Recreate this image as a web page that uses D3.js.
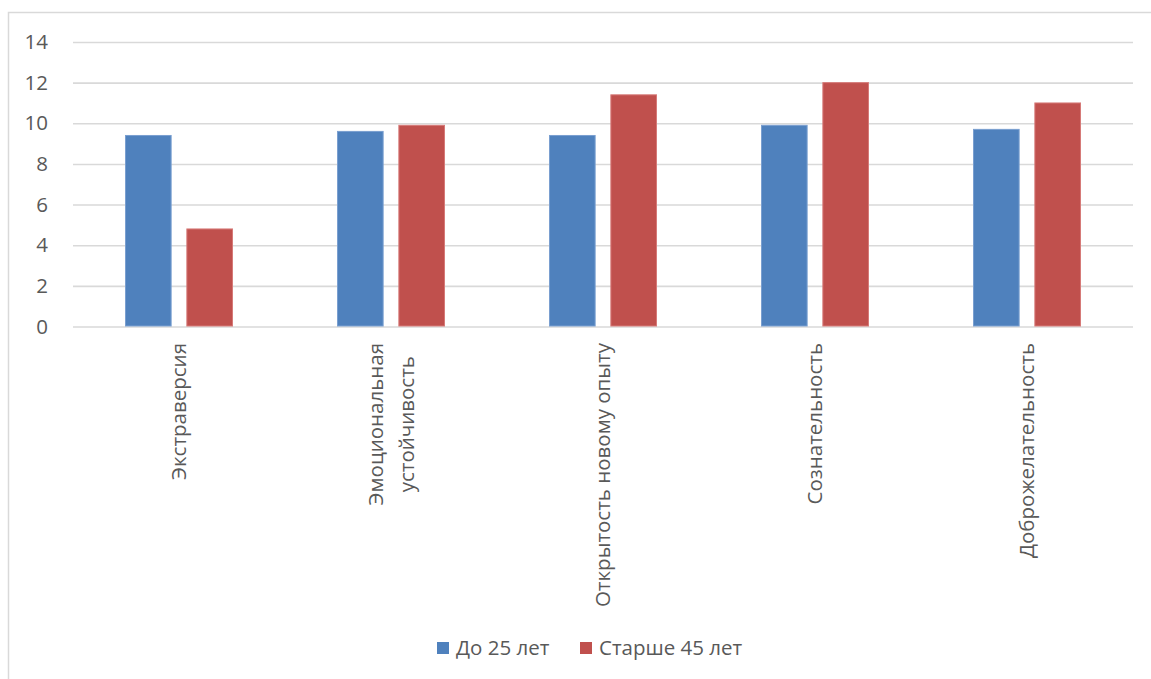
<!DOCTYPE html>
<html>
<head>
<meta charset="utf-8">
<script src="https://cdn.jsdelivr.net/npm/d3@7"></script>
<style>
  body { margin: 0; background: #fff; }
  text { font-family: "Open Sans", "Noto Sans", sans-serif; fill: #595959; }
</style>
</head>
<body>
<svg id="chart"></svg>
<script>
var categories = [["Экстраверсия"], ["Эмоциональная", "устойчивость"], ["Открытость новому опыту"], ["Сознательность"], ["Доброжелательность"]]
var seriesNames = ["До 25 лет", "Старше 45 лет"]
var young = [9.4, 9.6, 9.4, 9.9, 9.7]
var old = [4.8, 9.9, 11.4, 12.0, 11.0]
var yTicks = [0, 2, 4, 6, 8, 10, 12, 14]
var colors = ["#4f81bd", "#c0504d"]
var strokes = ["#7a9fd0", "#d67a78"]

var W = 1151, H = 679
var margin = {top: 42, left: 73, right: 18, bottom: 353}
var fs = "20.5px"

var svg = d3.select("#chart").attr("width", W).attr("height", H)

// chart frame
svg.append("rect")
  .attr("x", 8.5).attr("y", 12.5)
  .attr("width", W).attr("height", H)
  .attr("fill", "none").attr("stroke", "#d9d9d9").attr("stroke-width", 1.5)

var x = d3.scaleBand()
  .domain(d3.range(categories.length))
  .range([margin.left, W - margin.right])

var y = d3.scaleLinear()
  .domain([0, 14])
  .range([H - margin.bottom + 0.5, margin.top])

var x1 = d3.scaleBand()
  .domain([0, 1])
  .range([0, 108])
  .paddingInner(0.24)

// gridlines
svg.append("g")
  .attr("transform", "translate(" + margin.left + ",0)")
  .call(d3.axisLeft(y).tickValues(yTicks).tickSize(-(W - margin.right - margin.left)).tickFormat(""))
  .call(function (g) { g.select(".domain").remove() })
  .selectAll("line")
  .attr("stroke", "#d9d9d9").attr("stroke-width", 1.6)

// y labels
svg.append("g")
  .selectAll("text")
  .data(yTicks)
  .enter().append("text")
  .attr("x", 48)
  .attr("y", function (d) { return y(d) })
  .attr("dy", "0.35em")
  .attr("text-anchor", "end")
  .attr("font-size", fs)
  .text(function (d) { return d })

var data = [young, old]
var groups = svg.append("g")
  .selectAll("g")
  .data(categories)
  .enter().append("g")
  .attr("transform", function (d, i) { return "translate(" + (x(i) + x.bandwidth() / 2 - 54) + ",0)" })

groups.selectAll("rect")
  .data(function (d, i) { return data.map(function (s, k) { return {k: k, v: s[i]} }) })
  .enter().append("rect")
  .attr("x", function (d) { return x1(d.k) + 0.5 })
  .attr("width", x1.bandwidth() - 1)
  .attr("y", function (d) { return y(d.v) })
  .attr("height", function (d) { return y(0) - y(d.v) - 0.5 })
  .attr("fill", function (d) { return colors[d.k] })
  .attr("stroke", function (d) { return strokes[d.k] })
  .attr("stroke-width", 1)

// category labels, rotated
var lineH = 31
categories.forEach(function (lines, i) {
  var cx = x(i) + x.bandwidth() / 2
  var t = svg.append("text")
    .attr("transform", "translate(" + cx + ",343) rotate(-90)")
    .attr("font-size", fs)
  lines.forEach(function (l, j) {
    t.append("tspan")
      .attr("x", 0)
      .attr("y", (j - (lines.length - 1) / 2) * lineH)
      .attr("dy", "0.35em")
      .text(l)
  })
  var nodes = t.selectAll("tspan").nodes()
  var maxW = d3.max(nodes, function (n) { return n.getComputedTextLength() })
  t.selectAll("tspan").attr("x", -maxW / 2).attr("text-anchor", "middle")
})

// legend
var legend = svg.append("g")
var lx = [437, 580]
seriesNames.forEach(function (name, k) {
  legend.append("rect")
    .attr("x", lx[k]).attr("y", 642)
    .attr("width", 12).attr("height", 12)
    .attr("fill", colors[k])
  legend.append("text")
    .attr("x", lx[k] + 19).attr("y", 648)
    .attr("dy", "0.35em")
    .attr("font-size", fs)
    .text(name)
})
</script>
</body>
</html>
